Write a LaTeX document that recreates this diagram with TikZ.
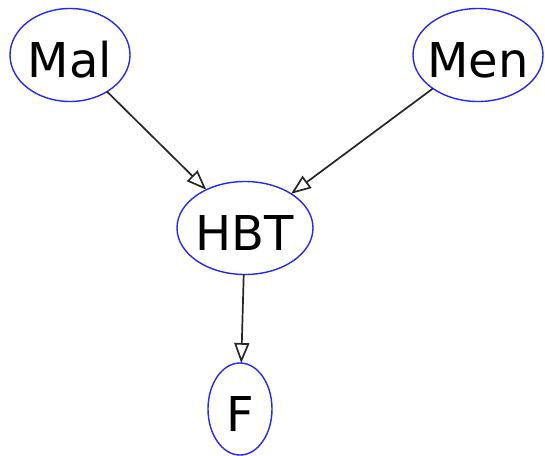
\documentclass[tikz,border=0pt]{standalone}
\usepackage{fontspec}
\setmainfont{DejaVu Sans}
\usetikzlibrary{shapes.geometric,arrows.meta}
\tikzset{
  nd/.style={ellipse, draw=blue!85, line width=1.4pt, inner sep=0pt, outer sep=0pt,
    text height=44pt, text depth=0pt, font=\fontsize{48}{50}\selectfont, minimum height=93pt},
  edge/.style={draw=black!85, line width=1.7pt, -{Triangle[open, length=20pt, width=15pt]}}
}
\begin{document}
\begin{tikzpicture}[x=1pt,y=-1pt]
\useasboundingbox (0,0) rectangle (545,455);
\node[nd, minimum width=120pt] (Mal) at (70,55) {\makebox[0pt]{Mal}};
\node[nd, minimum width=130pt] (Men) at (478,55) {\makebox[0pt]{Men}};
\node[nd, minimum width=136pt] (HBT) at (245,228) {\makebox[0pt]{HBT}};
\node[nd, minimum width=64pt, minimum height=92pt] (F) at (240,409) {\makebox[0pt]{F}};
\draw[edge] (Mal) -- (HBT);
\draw[edge] (Men) -- (HBT);
\draw[edge] (HBT) -- (F);
\end{tikzpicture}
\end{document}
